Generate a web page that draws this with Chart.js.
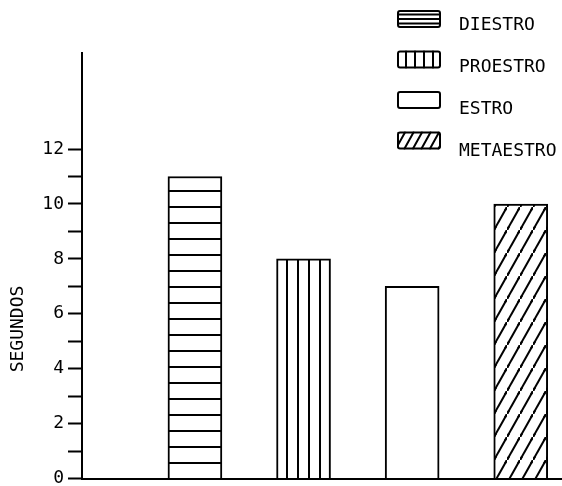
<!DOCTYPE html>
<html>
<head>
<meta charset="utf-8">
<script src="https://cdn.jsdelivr.net/npm/chart.js@4/dist/chart.umd.min.js"></script>
<style>
  html, body { margin: 0; padding: 0; background: #fff; }
  #wrap { width: 562px; height: 486px; }
</style>
</head>
<body>
<div id="wrap"><canvas id="chart"></canvas></div>
<script>
// --- datos ---
const categories = ['DIESTRO', 'PROESTRO', 'ESTRO', 'METAESTRO'];
const seconds    = [11, 8, 7, 10];
const yTickMax   = 12;   // última marca del eje
const yTitle     = 'SEGUNDOS';

// estilo de relleno por categoría
const hatchKinds = ['horizontal', 'vertical', 'none', 'diagonal'];

// rotulación técnica: letra monoespaciada
const FONT = "'DejaVu Sans Mono', monospace";

// --- tramas para las barras ---
function makePattern(kind) {
    const c = document.createElement('canvas');
    const g = c.getContext('2d');
    if (kind === 'horizontal') {
        c.width = 8; c.height = 16;
        g.fillStyle = '#fff'; g.fillRect(0, 0, 8, 16);
        g.fillStyle = '#000'; g.fillRect(0, 14, 8, 2);
    } else if (kind === 'vertical') {
        c.width = 11; c.height = 8;
        g.fillStyle = '#fff'; g.fillRect(0, 0, 11, 8);
        g.fillStyle = '#000'; g.fillRect(0, 0, 2, 8);
    } else if (kind === 'diagonal') {
        const w = 13, h = 23;
        c.width = w; c.height = h;
        g.fillStyle = '#fff'; g.fillRect(0, 0, w, h);
        g.strokeStyle = '#000'; g.lineWidth = 2;
        [[0, 0], [w, -h], [-w, h]].forEach(([dx, dy]) => {
            g.beginPath();
            g.moveTo(-2 + dx, h + 2 * h / w + dy);
            g.lineTo(w + 2 + dx, -2 * h / w + dy);
            g.stroke();
        });
    } else {
        return '#fff';
    }
    return g.createPattern(c, 'repeat');
}

const barFills = hatchKinds.map(makePattern);

// --- leyenda (arriba a la derecha) y título del eje ---
function drawHatch(ctx, kind, x, y, w, h) {
    ctx.strokeStyle = '#000';
    ctx.lineWidth = 2;
    ctx.beginPath();
    if (kind === 'horizontal') {
        for (let yy = y + 4.5; yy < y + h - 1; yy += 4.5) { ctx.moveTo(x, yy); ctx.lineTo(x + w, yy); }
    } else if (kind === 'vertical') {
        for (let xx = x + 9; xx < x + w - 2; xx += 9) { ctx.moveTo(xx, y); ctx.lineTo(xx, y + h); }
    } else if (kind === 'diagonal') {
        for (let xx = x - 10; xx < x + w + 10; xx += 8.5) { ctx.moveTo(xx, y + h); ctx.lineTo(xx + 10, y); }
    }
    ctx.stroke();
}

const sideLegend = {
    id: 'sideLegend',
    afterDraw(chart) {
        const ctx = chart.ctx;
        categories.forEach((name, i) => {
            const x = 397, y = 10 + i * 40.5, w = 44, h = 18;
            ctx.save();
            ctx.beginPath();
            ctx.roundRect(x, y, w, h, 2);
            ctx.clip();
            ctx.fillStyle = '#fff';
            ctx.fillRect(x, y, w, h);
            drawHatch(ctx, hatchKinds[i], x, y, w, h);
            ctx.restore();

            ctx.save();
            ctx.beginPath();
            ctx.roundRect(x + 1, y + 1, w - 2, h - 2, 2);
            ctx.lineWidth = 2;
            ctx.strokeStyle = '#000';
            ctx.stroke();

            ctx.fillStyle = '#000';
            ctx.font = '18px ' + FONT;
            ctx.textAlign = 'left';
            ctx.textBaseline = 'alphabetic';
            ctx.fillText(name, 459, 30 + i * 42);
            ctx.restore();
        });

        // título vertical del eje Y (más bajo que el centro del eje)
        ctx.save();
        ctx.translate(18.5, 329);
        ctx.rotate(-Math.PI / 2);
        ctx.fillStyle = '#000';
        ctx.font = '18px ' + FONT;
        ctx.textAlign = 'center';
        ctx.textBaseline = 'middle';
        ctx.fillText(yTitle, 0, 0);
        ctx.restore();
    }
};

new Chart(document.getElementById('chart'), {
    type: 'bar',
    data: {
        datasets: [{
            data: categories.map((c, i) => ({ x: i + 1, y: seconds[i] })),
            backgroundColor: barFills,
            borderColor: '#000',
            borderWidth: 2,
            barThickness: 54
        }]
    },
    options: {
        responsive: true,
        maintainAspectRatio: false,
        animation: false,
        layout: { padding: { top: 53, left: 0, right: 0, bottom: 0 } },
        plugins: {
            legend:  { display: false },
            tooltip: { enabled: false }
        },
        scales: {
            x: {
                type: 'linear',
                offset: false,
                min: -0.04, max: 4.38,
                grid:   { display: false, offset: false },
                border: { display: true, color: '#000', width: 2 },
                ticks:  { display: false },
                afterFit(s) { s.height = 7.5; s.paddingLeft = 0; s.paddingRight = 0; }
            },
            y: {
                min: 0, max: 15.5,
                ticks: {
                    stepSize: 1,
                    autoSkip: false,
                    padding: 4,
                    color: '#000',
                    font: { family: FONT, size: 18 },
                    callback: v => (v % 2 === 0 ? String(v) : '')
                },
                afterBuildTicks(s) { s.ticks = s.ticks.filter(t => t.value <= yTickMax); },
                grid:   { drawOnChartArea: false, tickLength: 14, tickWidth: 2, tickColor: '#000' },
                border: { color: '#000', width: 2 },
                afterFit(s) { s.width = 82; s.paddingTop = 0; s.paddingBottom = 0; }
            }
        }
    },
    plugins: [sideLegend]
});
</script>
</body>
</html>
